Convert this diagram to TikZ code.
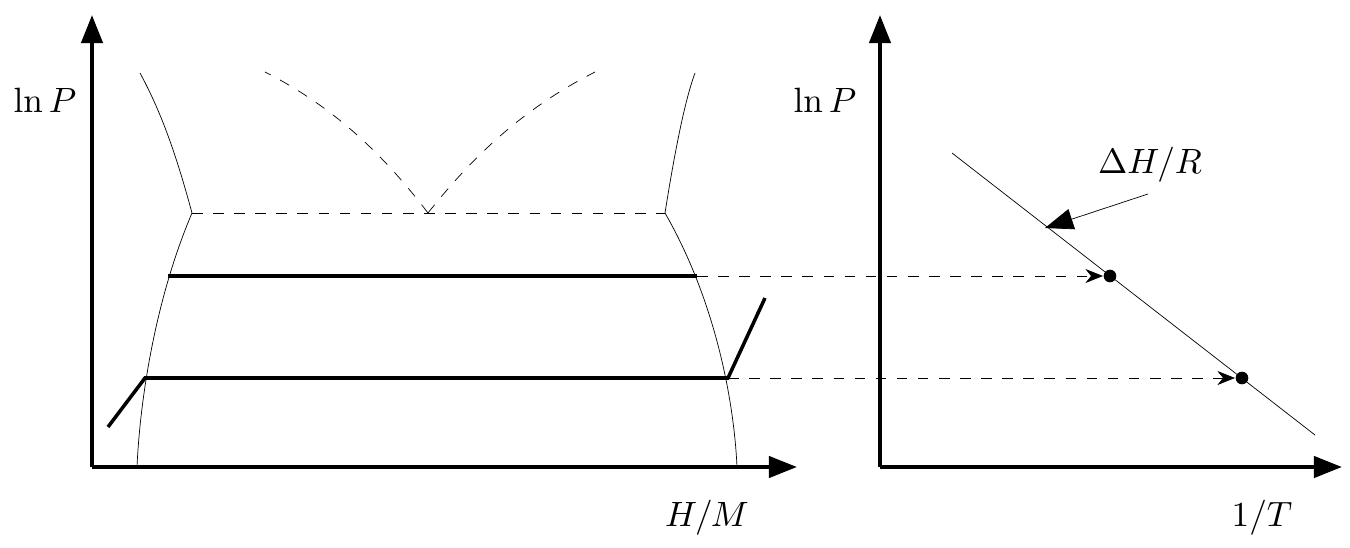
\documentclass[tikz,border=0pt]{standalone}
\usepackage{amsmath}
\usetikzlibrary{arrows.meta,calc}
\begin{document}
\begin{tikzpicture}[x=0.01cm,y=-0.01cm,
	axis/.style = {line width=1.2pt,-{Triangle[length=8pt,width=6pt]}},
	plateau/.style = {line width=1pt},
	guide/.style = {dashed, very thin, -{Stealth[length=5pt,width=4pt]}},
	dot/.style = {circle, fill, inner sep=0pt, minimum size=3.6pt}]
	\useasboundingbox (0,0) rectangle (1350,548);
	
	% Axes
	\coordinate (O1) at (92,467);
	\coordinate (O2) at (880,467);
	\draw[axis] (O1) -- (92,15);
	\draw[axis] (O1) -- (797,467);
	\draw[axis] (O2) -- (880,15);
	\draw[axis] (O2) -- (1342,467);
	
	% Axis labels
	\node (yl1) at (45,100) {$\ln P$};
	\node (yl2) at (825,100) {$\ln P$};
	\node (xl1) at (707,518) {$H/M$};
	\node (xl2) at (1262,518) {$1/T$};
	
	% Phase boundaries
	\draw[very thin] (137,467) .. controls (140,400) and (155,300) .. (192,213)
		.. controls (175,150) and (160,110) .. (140,73);
	\draw[very thin] (737,467) .. controls (734,400) and (715,300) .. (665,213)
		.. controls (675,150) and (685,100) .. (695,73);
	
	% Critical region
	\draw[dashed, very thin] (192,213) -- (665,213);
	\draw[dashed, very thin] (428,213) .. controls (380,150) and (330,105) .. (265,72);
	\draw[dashed, very thin] (428,213) .. controls (470,160) and (520,110) .. (595,72);
	
	% Plateaus
	\coordinate (p1a) at (168,276);
	\coordinate (p1b) at (697,276);
	\coordinate (p2a) at (145,378);
	\coordinate (p2b) at (728,378);
	\draw[plateau] (p1a) -- (p1b);
	\draw[plateau] (108,427) -- (p2a) -- (p2b) -- (765,298);
	
	% Van't Hoff plot
	\coordinate (v1) at (952,153);
	\coordinate (v2) at (1315,435);
	\draw[very thin] (v1) -- (v2);
	\node[dot] (d1) at (1110,276) {};
	\node[dot] (d2) at (1242,378) {};
	\draw[guide] (p1b) -- (d1);
	\draw[guide] (p2b) -- (d2);
	
	% Slope label
	\node (slope) at (1150,165) {$\Delta H/R$};
	\coordinate (s) at (1045,228);
	\draw[very thin, -{Triangle[length=8pt,width=6pt]}] (1148,194) -- (s);
\end{tikzpicture}
\end{document}
